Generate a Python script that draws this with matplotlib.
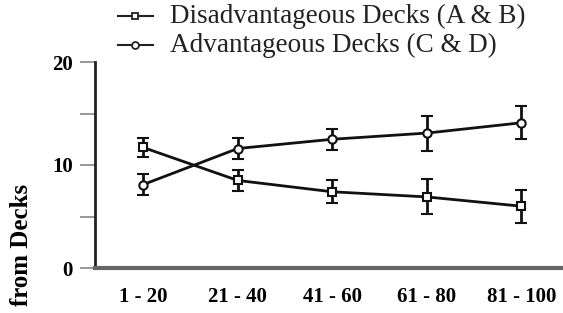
import matplotlib
matplotlib.use("Agg")
import matplotlib.pyplot as plt
from matplotlib.lines import Line2D

categories = ["1 - 20", "21 - 40", "41 - 60", "61 - 80", "81 - 100"]
disadv = [11.7, 8.5, 7.4, 6.9, 6.0]
disadv_err = [0.9, 1.0, 1.1, 1.7, 1.6]
adv = [8.1, 11.6, 12.5, 13.1, 14.1]
adv_err = [1.0, 1.0, 1.0, 1.7, 1.6]
yticks = [0, 10, 20]
yminor = [5, 15]
labels = ["Disadvantageous Decks (A & B)", "Advantageous Decks (C & D)"]
markers = ['s', 'o']

plt.rcParams['font.family'] = ['Liberation Serif', 'DejaVu Serif']

W, H = 563, 313
fig = plt.figure(figsize=(W/100, H/100), dpi=100)
ax = fig.add_axes([95/W, 45/H, 1 - 95/W, (268-62)/H])

x = list(range(len(categories)))
ax.errorbar(x, disadv, yerr=disadv_err, color='#111111', lw=2.0, marker='s',
            ms=6, mfc='white', mec='#111111', mew=1.5, capsize=4, capthick=2, elinewidth=2)
ax.errorbar(x, adv, yerr=adv_err, color='#111111', lw=2.0, marker='o',
            ms=6, mfc='white', mec='#111111', mew=1.5, capsize=4, capthick=2, elinewidth=2)

ax.set_xlim(-0.51, 4.44)
ax.set_ylim(0, 20)
ax.set_xticks(x)
ax.set_xticklabels(categories, fontsize=15, fontweight='bold')
ax.set_yticks(yticks)
ax.set_yticks(yminor, minor=True)
ax.set_yticklabels([str(v) for v in yticks], fontsize=15, fontweight='bold')
ax.tick_params(axis='x', length=0, pad=14)
ax.tick_params(axis='y', which='both', length=11, width=1.2, color='#888888', pad=5)
ax.spines['top'].set_visible(False)
ax.spines['right'].set_visible(False)
ax.spines['left'].set_linewidth(2)
ax.spines['left'].set_color('#222222')
ax.spines['bottom'].set_linewidth(3)
ax.spines['bottom'].set_color('#666666')
ax.spines['left'].set_bounds(0, 20)

# legend drawn manually in figure pixel positions
rows_y = [16, 45]
for lab, mk, ry in zip(labels, markers, rows_y):
    yy = 1 - ry/H
    fig.add_artist(Line2D([118/W, 153/W], [yy, yy], transform=fig.transFigure,
                          color='#222222', lw=1.5))
    fig.add_artist(Line2D([135/W], [yy], transform=fig.transFigure, marker=mk,
                          ms=5, mfc='white', mec='#222222', mew=1.3, ls='none'))
    fig.text(170/W, yy, lab, fontsize=19.5, ha='left', va='center', color='#222222')

fig.text(22/W, 1 - 245/H, "from Decks", rotation=90, fontsize=18,
         fontweight='bold', ha='center', va='center')

fig.savefig("out.png", dpi=100)
